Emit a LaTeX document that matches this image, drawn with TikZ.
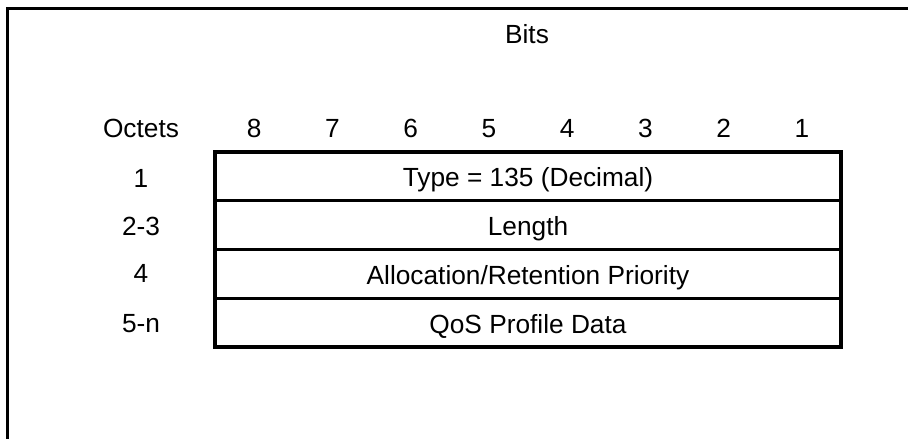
\documentclass[tikz,border=0pt]{standalone}
\usepackage{fontspec}
\setmainfont{Liberation Sans}
\begin{document}
\begin{tikzpicture}[x=0.75pt,y=-0.75pt,
  lbl/.style={font=\fontsize{19.7}{23}\selectfont, anchor=base, inner sep=0pt},
  field/.style={draw, line width=1.9pt, font=\fontsize{19.7}{23}\selectfont,
    minimum width=469.5pt, minimum height=36.5625pt, inner sep=0pt, outer sep=0pt,
    text height=15.75pt, text depth=0pt, anchor=center}]
\useasboundingbox (0,0) rectangle (908,439);
% outer frame
\draw[line width=1.7pt] (7.5,439) -- (7.5,8.5) -- (908,8.5);
% headings
\node[lbl] (bits) at (527,43) {Bits};
\node[lbl] (octets) at (141,137) {Octets};
\foreach \b [count=\i from 0] in {8,7,6,5,4,3,2,1}
  \node[lbl] (bit\b) at ({215+78.25*(\i+0.5)},137) {\b};
% fields
\node[field] (r1) at (528,176.375) {Type = 135 (Decimal)};
\node[field] (r2) at (528,225.125) {Length};
\node[field] (r3) at (528,273.875) {Allocation/Retention Priority};
\node[field] (r4) at (528,322.625) {QoS Profile Data};
\draw[line width=3pt] (r1.north west) rectangle (r4.south east);
% octet labels
\node[lbl] (o1) at (141,187) {1};
\node[lbl] (o2) at (141,235.5) {2-3};
\node[lbl] (o3) at (141,282.5) {4};
\node[lbl] (o4) at (141,332) {5-n};
\end{tikzpicture}
\end{document}
